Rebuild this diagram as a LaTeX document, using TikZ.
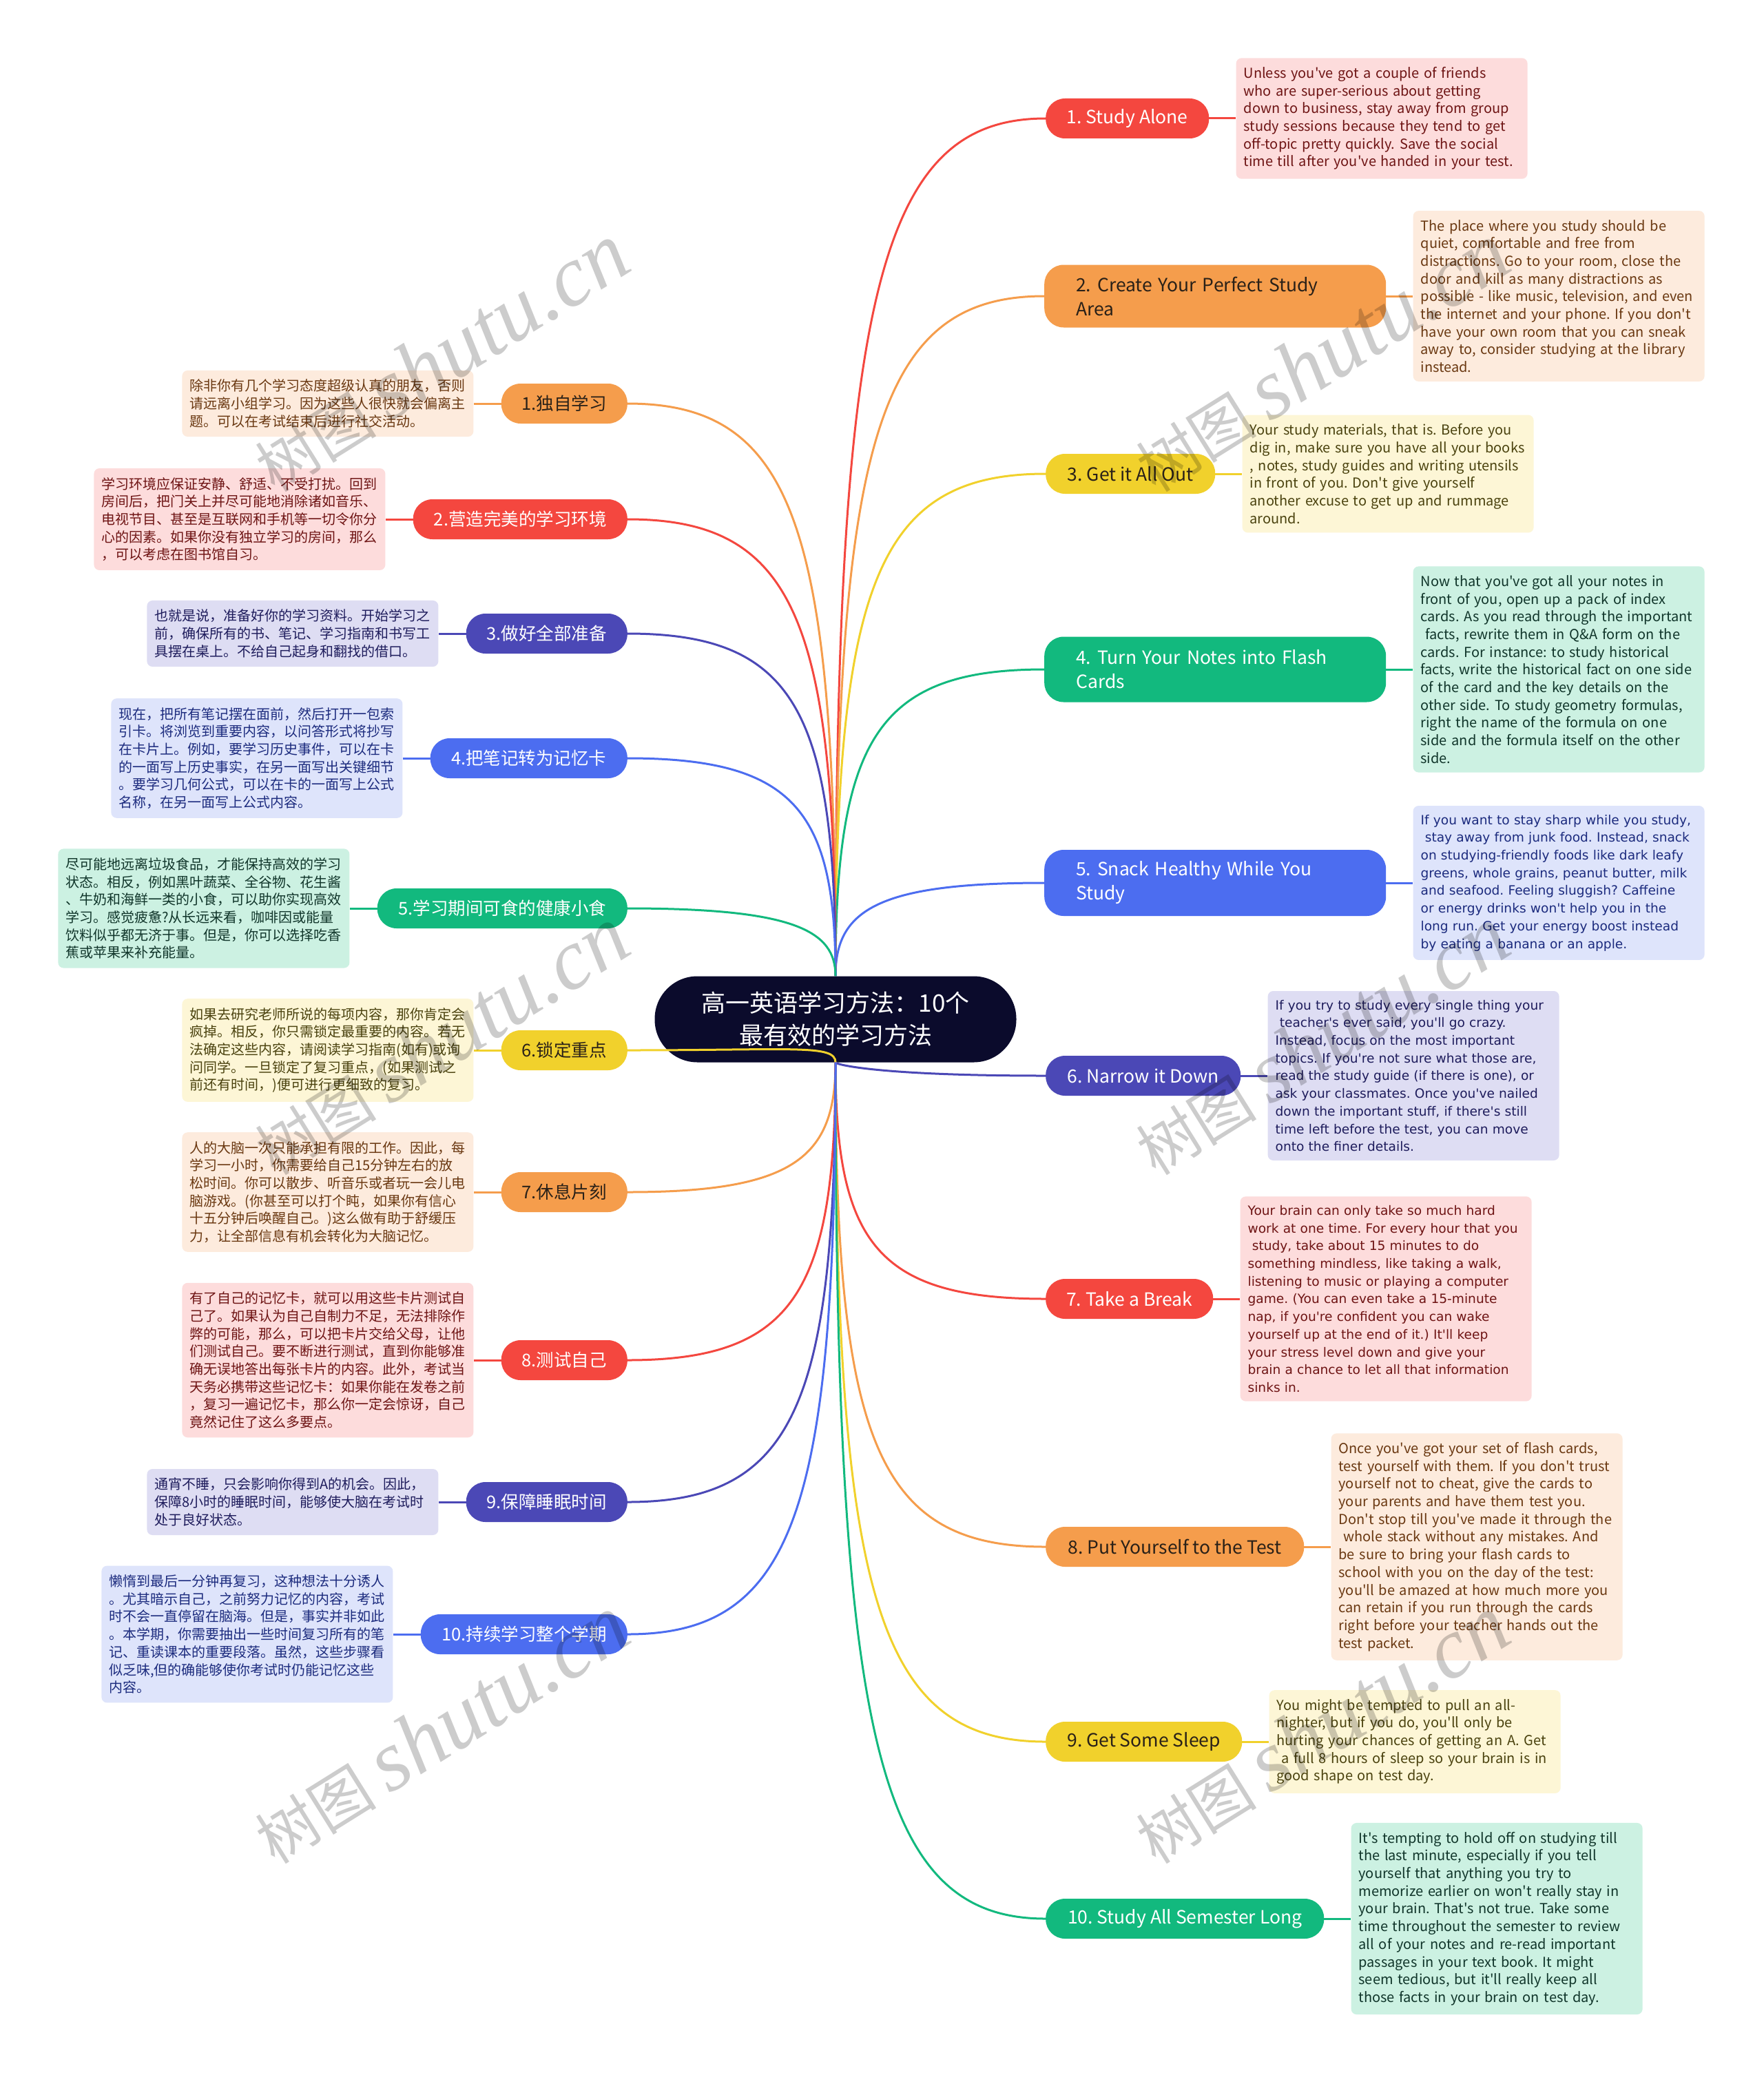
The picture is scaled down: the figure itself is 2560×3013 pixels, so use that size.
\documentclass[tikz,border=0pt]{standalone}
\usepackage{fontspec}
\newfontfamily\cjk{Noto Sans CJK SC}
\newfontfamily\wide{DejaVu Sans}
\newfontfamily\wmserif{Liberation Serif}
\usetikzlibrary{positioning,calc}
\frenchspacing

\definecolor{cred}{HTML}{F4473F}
\definecolor{corange}{HTML}{F59D4C}
\definecolor{cyellow}{HTML}{F1D12C}
\definecolor{cgreen}{HTML}{12B97E}
\definecolor{cblue}{HTML}{4C6DF0}
\definecolor{cindigo}{HTML}{4B48B6}
\definecolor{lred}{HTML}{FDDCDC}
\definecolor{lorange}{HTML}{FDEBDD}
\definecolor{lyellow}{HTML}{FDF6D6}
\definecolor{lgreen}{HTML}{CCF1E2}
\definecolor{lblue}{HTML}{DEE4FB}
\definecolor{lindigo}{HTML}{DEDDF3}
\definecolor{tred}{HTML}{6E1414}
\definecolor{torange}{HTML}{6A3811}
\definecolor{tyellow}{HTML}{4A420E}
\definecolor{tgreen}{HTML}{10352A}
\definecolor{tblue}{HTML}{1C2B7E}
\definecolor{tindigo}{HTML}{1E1C5C}
\definecolor{hubfill}{HTML}{0B0B2C}
\definecolor{darklabel}{HTML}{2A2118}

\tikzset{
  hubbox/.style={fill=hubfill, text=white, rounded corners=62pt, minimum width=525pt,
    minimum height=125pt, align=center, font=\cjk\fontsize{35}{47}\selectfont},
  topic/.style={rounded corners=28pt, minimum height=58pt, inner xsep=28pt,
    font=\cjk\fontsize{25.5}{34}\selectfont},
  rtopic/.style={topic, anchor=west, align=left, font=\cjk\fontsize{26.5}{35}\selectfont},
  twoline/.style={inner xsep=46pt, text width=404pt},
  ltopic/.style={topic, anchor=east, align=center},
  memo/.style={rounded corners=8pt, inner xsep=11pt, inner ysep=13pt, text width=401pt,
    align=left, font=\cjk\fontsize{20}{25.7}\selectfont},
  wide/.style={font=\wide\fontsize{18.6}{25.7}\selectfont},
  branch/.style={line width=3pt},
  stamp/.style={rotate=32, text=black, text opacity=0.2, font=\cjk\fontsize{88}{88}\selectfont}
}

\begin{document}
\begin{tikzpicture}[x=1pt,y=-1pt]
\useasboundingbox[fill=white] (0,0) rectangle (2560,3013);

\node[hubbox] (hub) at (1213,1480) {高一英语学习方法：10个\\最有效的学习方法};

% right side
\node[rtopic, fill=cred, text=white, minimum width=237pt] (r1) at (1518,172) {1. Study Alone};
\node[rtopic, twoline, fill=corange, text=darklabel, minimum height=91pt] (r2) at (1516,430) {2. Create Your Perfect Study\\Area};
\node[rtopic, fill=cyellow, text=darklabel, minimum width=246pt] (r3) at (1518,688) {3. Get it All Out};
\node[rtopic, twoline, fill=cgreen, text=white, minimum height=95pt] (r4) at (1516,972) {4. Turn Your Notes into Flash\\Cards};
\node[rtopic, twoline, fill=cblue, text=white, minimum height=96pt] (r5) at (1516,1282) {5. Snack Healthy While You\\Study};
\node[rtopic, fill=cindigo, text=white, minimum width=283pt] (r6) at (1518,1562) {6. Narrow it Down};
\node[rtopic, fill=cred, text=white, minimum width=243pt] (r7) at (1518,1886) {7. Take a Break};
\node[rtopic, fill=corange, text=darklabel, minimum width=375pt] (r8) at (1518,2246) {8. Put Yourself to the Test};
\node[rtopic, fill=cyellow, text=darklabel, minimum width=285pt] (r9) at (1518,2529) {9. Get Some Sleep};
\node[rtopic, fill=cgreen, text=white, minimum width=404pt] (r10) at (1518,2786) {10. Study All Semester Long};

\node[memo, fill=lred, text=tred, right=39pt of r1] (n1) {Unless you've got a couple of friends\\who are super-serious about getting\\down to business, stay away from group\\study sessions because they tend to get\\off-topic pretty quickly. Save the social\\time till after you've handed in your test.};
\node[memo, fill=lorange, text=torange, right=39pt of r2] (n2) {The place where you study should be\\quiet, comfortable and free from\\distractions. Go to your room, close the\\door and kill as many distractions as\\possible - like music, television, and even\\the internet and your phone. If you don't\\have your own room that you can sneak\\away to, consider studying at the library\\instead.};
\node[memo, fill=lyellow, text=tyellow, right=39pt of r3] (n3) {Your study materials, that is. Before you\\dig in, make sure you have all your books\\, notes, study guides and writing utensils\\in front of you. Don't give yourself\\another excuse to get up and rummage\\around.};
\node[memo, fill=lgreen, text=tgreen, right=39pt of r4] (n4) {Now that you've got all your notes in\\front of you, open up a pack of index\\cards. As you read through the important\\\ facts, rewrite them in Q\&A form on the\\cards. For instance: to study historical\\facts, write the historical fact on one side\\of the card and the key details on the\\other side. To study geometry formulas,\\right the name of the formula on one\\side and the formula itself on the other\\side.};
\node[memo, wide, fill=lblue, text=tblue, right=39pt of r5] (n5) {If you want to stay sharp while you study,\\\ stay away from junk food. Instead, snack\\on studying-friendly foods like dark leafy\\greens, whole grains, peanut butter, milk\\and seafood. Feeling sluggish? Caffeine\\or energy drinks won't help you in the\\long run. Get your energy boost instead\\by eating a banana or an apple.};
\node[memo, wide, fill=lindigo, text=tindigo, right=39pt of r6] (n6) {If you try to study every single thing your\\\ teacher's ever said, you'll go crazy.\\Instead, focus on the most important\\topics. If you're not sure what those are,\\read the study guide (if there is one), or\\ask your classmates. Once you've nailed\\down the important stuff, if there's still\\time left before the test, you can move\\onto the finer details.};
\node[memo, wide, fill=lred, text=tred, right=39pt of r7] (n7) {Your brain can only take so much hard\\work at one time. For every hour that you\\\ study, take about 15 minutes to do\\something mindless, like taking a walk,\\listening to music or playing a computer\\game. (You can even take a 15-minute\\nap, if you're confident you can wake\\yourself up at the end of it.) It'll keep\\your stress level down and give your\\brain a chance to let all that information\\sinks in.};
\node[memo, fill=lorange, text=torange, right=39pt of r8] (n8) {Once you've got your set of flash cards,\\test yourself with them. If you don't trust\\yourself not to cheat, give the cards to\\your parents and have them test you.\\Don't stop till you've made it through the\\\ whole stack without any mistakes. And\\be sure to bring your flash cards to\\school with you on the day of the test:\\you'll be amazed at how much more you\\can retain if you run through the cards\\right before your teacher hands out the\\test packet.};
\node[memo, fill=lyellow, text=tyellow, right=39pt of r9] (n9) {You might be tempted to pull an all-\\nighter, but if you do, you'll only be\\hurting your chances of getting an A. Get\\\ a full 8 hours of sleep so your brain is in\\good shape on test day.};
\node[memo, fill=lgreen, text=tgreen, right=39pt of r10] (n10) {It's tempting to hold off on studying till\\the last minute, especially if you tell\\yourself that anything you try to\\memorize earlier on won't really stay in\\your brain. That's not true. Take some\\time throughout the semester to review\\all of your notes and re-read important\\passages in your text book. It might\\seem tedious, but it'll really keep all\\those facts in your brain on test day.};

% left side
\node[ltopic, fill=corange, text=darklabel, minimum width=183pt] (l1) at (911,586) {1.独自学习};
\node[ltopic, fill=cred, text=white, minimum width=311pt] (l2) at (911,754) {2.营造完美的学习环境};
\node[ltopic, fill=cindigo, text=white, minimum width=234pt] (l3) at (911,920) {3.做好全部准备};
\node[ltopic, fill=cblue, text=white, minimum width=286pt] (l4) at (911,1101) {4.把笔记转为记忆卡};
\node[ltopic, fill=cgreen, text=white, minimum width=363pt] (l5) at (911,1319) {5.学习期间可食的健康小食};
\node[ltopic, fill=cyellow, text=darklabel, minimum width=183pt] (l6) at (911,1525) {6.锁定重点};
\node[ltopic, fill=corange, text=darklabel, minimum width=183pt] (l7) at (911,1731) {7.休息片刻};
\node[ltopic, fill=cred, text=white, minimum width=183pt] (l8) at (911,1975) {8.测试自己};
\node[ltopic, fill=cindigo, text=white, minimum width=234pt] (l9) at (911,2181) {9.保障睡眠时间};
\node[ltopic, fill=cblue, text=white, minimum width=300pt] (l10) at (911,2373) {10.持续学习整个学期};

\node[memo, fill=lorange, text=torange, left=40pt of l1] (m1) {除非你有几个学习态度超级认真的朋友，否则\\请远离小组学习。因为这些人很快就会偏离主\\题。可以在考试结束后进行社交活动。};
\node[memo, fill=lred, text=tred, left=40pt of l2] (m2) {学习环境应保证安静、舒适、不受打扰。回到\\房间后，把门关上并尽可能地消除诸如音乐、\\电视节目、甚至是互联网和手机等一切令你分\\心的因素。如果你没有独立学习的房间，那么\\，可以考虑在图书馆自习。};
\node[memo, fill=lindigo, text=tindigo, left=40pt of l3] (m3) {也就是说，准备好你的学习资料。开始学习之\\前，确保所有的书、笔记、学习指南和书写工\\具摆在桌上。不给自己起身和翻找的借口。};
\node[memo, fill=lblue, text=tblue, left=40pt of l4] (m4) {现在，把所有笔记摆在面前，然后打开一包索\\引卡。将浏览到重要内容，以问答形式将抄写\\在卡片上。例如，要学习历史事件，可以在卡\\的一面写上历史事实，在另一面写出关键细节\\。要学习几何公式，可以在卡的一面写上公式\\名称，在另一面写上公式内容。};
\node[memo, fill=lgreen, text=tgreen, left=40pt of l5] (m5) {尽可能地远离垃圾食品，才能保持高效的学习\\状态。相反，例如黑叶蔬菜、全谷物、花生酱\\、牛奶和海鲜一类的小食，可以助你实现高效\\学习。感觉疲惫?从长远来看，咖啡因或能量\\饮料似乎都无济于事。但是，你可以选择吃香\\蕉或苹果来补充能量。};
\node[memo, fill=lyellow, text=tyellow, left=40pt of l6] (m6) {如果去研究老师所说的每项内容，那你肯定会\\疯掉。相反，你只需锁定最重要的内容。若无\\法确定这些内容，请阅读学习指南(如有)或询\\问同学。一旦锁定了复习重点，(如果测试之\\前还有时间，)便可进行更细致的复习。};
\node[memo, fill=lorange, text=torange, left=40pt of l7] (m7) {人的大脑一次只能承担有限的工作。因此，每\\学习一小时，你需要给自己15分钟左右的放\\松时间。你可以散步、听音乐或者玩一会儿电\\脑游戏。(你甚至可以打个盹，如果你有信心\\十五分钟后唤醒自己。)这么做有助于舒缓压\\力，让全部信息有机会转化为大脑记忆。};
\node[memo, fill=lred, text=tred, left=40pt of l8] (m8) {有了自己的记忆卡，就可以用这些卡片测试自\\己了。如果认为自己自制力不足，无法排除作\\弊的可能，那么，可以把卡片交给父母，让他\\们测试自己。要不断进行测试，直到你能够准\\确无误地答出每张卡片的内容。此外，考试当\\天务必携带这些记忆卡：如果你能在发卷之前\\，复习一遍记忆卡，那么你一定会惊讶，自己\\竟然记住了这么多要点。};
\node[memo, fill=lindigo, text=tindigo, left=40pt of l9] (m9) {通宵不睡，只会影响你得到A的机会。因此，\\保障8小时的睡眠时间，能够使大脑在考试时\\处于良好状态。};
\node[memo, fill=lblue, text=tblue, left=40pt of l10] (m10) {懒惰到最后一分钟再复习，这种想法十分诱人\\。尤其暗示自己，之前努力记忆的内容，考试\\时不会一直停留在脑海。但是，事实并非如此\\。本学期，你需要抽出一些时间复习所有的笔\\记、重读课本的重要段落。虽然，这些步骤看\\似乏味,但的确能够使你考试时仍能记忆这些\\内容。};

% connectors
\foreach \i/\c in {1/cred,2/corange,3/cyellow,4/cgreen,5/cblue,6/cindigo,7/cred,8/corange,9/cyellow,10/cgreen}{
  \draw[branch,\c] (hub) .. controls ($(hub)!0.8!(hub |- r\i)$) and ($(r\i.west)!0.8!(hub |- r\i)$) .. (r\i.west);
  \draw[branch,\c] (r\i) -- (n\i);
}
\foreach \i/\c in {1/corange,2/cred,3/cindigo,4/cblue,5/cgreen,6/cyellow,7/corange,8/cred,9/cindigo,10/cblue}{
  \draw[branch,\c] (hub) .. controls ($(hub)!0.8!(hub |- l\i)$) and ($(l\i.east)!0.8!(hub |- l\i)$) .. (l\i.east);
  \draw[branch,\c] (l\i) -- (m\i);
}

% watermark
\foreach \x/\y [count=\k] in {640/520,1918/520,640/1512,1918/1512,640/2512,1918/2512}
  \node[stamp] (wm\k) at (\x,\y) {树图 {\wmserif\itshape\fontsize{125}{125}\selectfont shutu.cn}};
\end{tikzpicture}
\end{document}
